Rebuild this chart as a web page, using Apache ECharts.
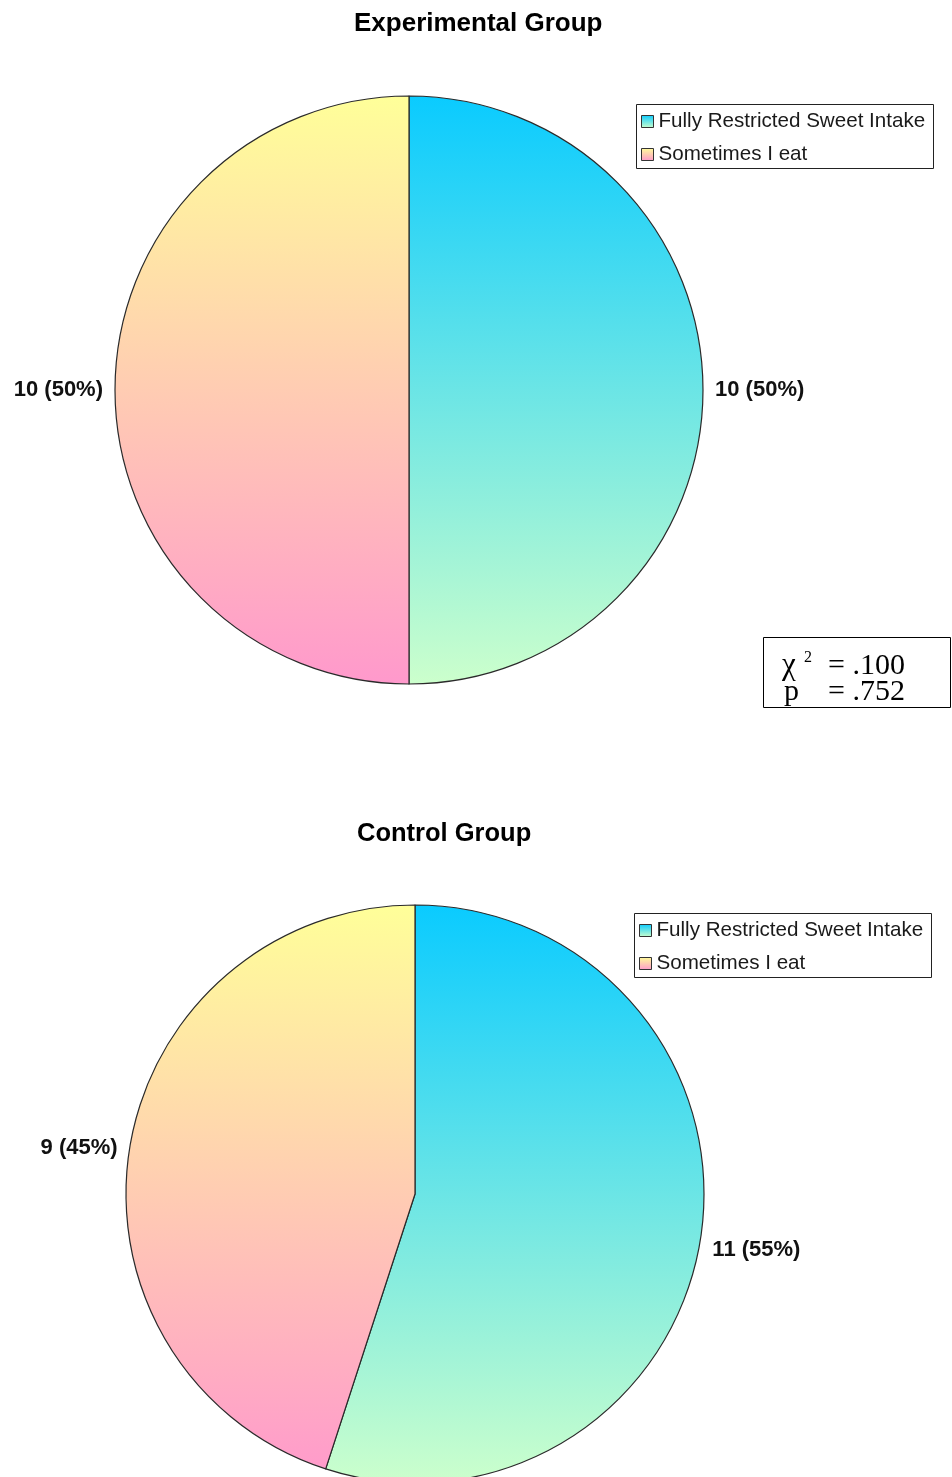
<!DOCTYPE html>
<html>
<head>
<meta charset="utf-8">
<script src="https://cdn.jsdelivr.net/npm/echarts@6/dist/echarts.min.js"></script>
<style>
  html, body { margin: 0; padding: 0; background: #fff; }
  #chart { width: 952px; height: 1477px; }
</style>
</head>
<body>
<div id="chart"></div>
<script>
// Sweet intake answers per group
const categories = ['Fully Restricted Sweet Intake', 'Sometimes I eat'];
const experimentalCounts = [10, 10];
const controlCounts = [11, 9];
const groupTitles = ['Experimental Group', 'Control Group'];
// Chi-square test between the groups
const chiSquare = '.100';
const pValue = '.752';

// Vertical gradient stops for each category (top colour, bottom colour)
const gradientStops = [
  ['#0ACBFF', '#CCFFCC'],
  ['#FFFF99', '#FF99CC']
];

// Pie geometry (pixels)
const pies = [
  { center: [409, 390], radius: 294 },
  { center: [415, 1194], radius: 289 }
];

function globalGradient(stops, top, bottom) {
  return new echarts.graphic.LinearGradient(0, top, 0, bottom, [
    { offset: 0, color: stops[0] },
    { offset: 1, color: stops[1] }
  ], true);
}
function localGradient(stops) {
  return new echarts.graphic.LinearGradient(0, 0, 0, 1, [
    { offset: 0, color: stops[0] },
    { offset: 1, color: stops[1] }
  ]);
}

// dropLabel: slices whose label sits half a line lower
function pieSeries(counts, geo, dropLabel) {
  const top = geo.center[1] - geo.radius;
  const bottom = geo.center[1] + geo.radius;
  return {
    type: 'pie',
    center: geo.center,
    radius: geo.radius,
    startAngle: 90,
    clockwise: true,
    avoidLabelOverlap: false,
    emphasis: { disabled: true },
    animation: false,
    itemStyle: { borderColor: '#2a2a2a', borderWidth: 1.2 },
    label: {
      show: true,
      position: 'outside',
      formatter: p => (dropLabel[p.dataIndex] ? '\n' : '') + p.value + ' (' + p.percent + '%)',
      fontFamily: 'Liberation Sans, Arial, sans-serif',
      fontSize: 22,
      lineHeight: 20,
      fontWeight: 'bold',
      color: '#111'
    },
    labelLine: { show: false, length: 7, length2: 0 },
    data: categories.map((name, i) => ({
      name: name,
      value: counts[i],
      itemStyle: { color: globalGradient(gradientStops[i], top, bottom) }
    }))
  };
}

function legendAt(left, top) {
  return {
    orient: 'vertical',
    left: left,
    top: top,
    padding: 0,
    itemWidth: 12,
    itemHeight: 12,
    itemGap: 12,
    selectedMode: false,
    icon: 'rect',
    textStyle: {
      fontFamily: 'Liberation Sans, Arial, sans-serif',
      fontSize: 20.6,
      lineHeight: 20,
      color: '#1a1a1a'
    },
    data: categories.map((name, i) => ({
      name: name,
      itemStyle: { color: localGradient(gradientStops[i]), borderColor: '#333', borderWidth: 1 }
    }))
  };
}

const titleStyle = {
  fontFamily: 'Liberation Sans, Arial, sans-serif',
  fontSize: 25.5,
  fontWeight: 'bold',
  color: '#000'
};
const serif = 'Liberation Serif, Times New Roman, serif';

const chart = echarts.init(document.getElementById('chart'), null, { renderer: 'canvas' });
chart.setOption({
  backgroundColor: '#fff',
  animation: false,
  title: [
    { text: groupTitles[0], left: 354, top: 11, padding: 0,
      textStyle: Object.assign({}, titleStyle, { fontSize: 26 }) },
    { text: groupTitles[1], left: 357, top: 821, padding: 0, textStyle: titleStyle }
  ],
  legend: [legendAt(641, 111), legendAt(639, 920)],
  graphic: [
    { type: 'rect', shape: { x: 636.5, y: 104.5, width: 297, height: 64 },
      style: { fill: null, stroke: '#222', lineWidth: 1 }, silent: true },
    { type: 'rect', shape: { x: 634.5, y: 913.5, width: 297, height: 64 },
      style: { fill: null, stroke: '#222', lineWidth: 1 }, silent: true },
    { type: 'rect', shape: { x: 763.5, y: 637.5, width: 187, height: 70 },
      style: { fill: '#fff', stroke: '#000', lineWidth: 1 }, silent: true },
    { type: 'text', left: 782, top: 650, silent: true,
      style: { text: '\u03C7', font: '31px ' + serif, fill: '#000' } },
    { type: 'text', left: 804, top: 650, silent: true,
      style: { text: '2', font: '16px ' + serif, fill: '#000' } },
    { type: 'text', left: 828, top: 651, silent: true,
      style: { text: '= ' + chiSquare, font: '30px ' + serif, fill: '#000' } },
    { type: 'text', left: 784, top: 677, silent: true,
      style: { text: 'p', font: '30px ' + serif, fill: '#000' } },
    { type: 'text', left: 828, top: 677, silent: true,
      style: { text: '= ' + pValue, font: '30px ' + serif, fill: '#000' } }
  ],
  series: [
    pieSeries(experimentalCounts, pies[0], [false, false]),
    pieSeries(controlCounts, pies[1], [true, false])
  ]
});
</script>
</body>
</html>
